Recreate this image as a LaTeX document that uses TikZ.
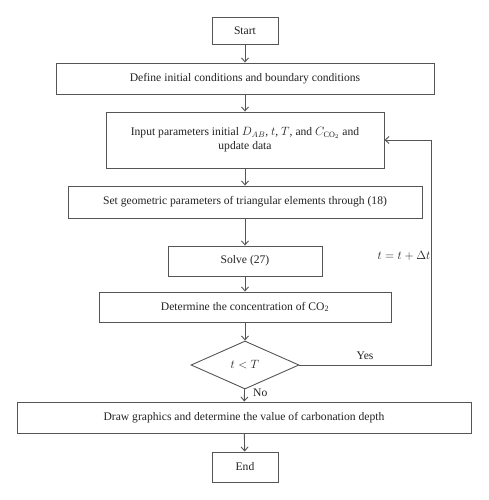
\documentclass[tikz,border=0pt]{standalone}
\usepackage{fontspec}
\setmainfont{Liberation Serif}
\usetikzlibrary{shapes.geometric,arrows.meta}
\definecolor{ln}{HTML}{555555}
\definecolor{tx}{HTML}{222222}
\begin{document}
\begin{tikzpicture}[x=1pt,y=-1pt,
  box/.style={draw=ln,line width=0.9pt,rectangle,inner sep=0pt,align=center,text=tx,font=\fontsize{11.6}{14}\selectfont},
  dec/.style={draw=ln,line width=0.9pt,diamond,inner sep=0pt,minimum width=108pt,minimum height=48pt,text=tx,font=\fontsize{11.6}{14}\selectfont},
  arr/.style={draw=ln,line width=0.9pt,-{Straight Barb[length=4pt,width=7pt]}},
  lbl/.style={text=tx,font=\fontsize{11.6}{14}\selectfont,inner sep=0pt}]
\useasboundingbox (0,0) rectangle (488,500);
\node[box,minimum width=66pt,minimum height=27pt] (start) at (245,30.5) {Start};
\node[box,minimum width=378pt,minimum height=31pt] (def) at (245,78.5) {Define initial conditions and boundary conditions};
\node[box,minimum width=278pt,minimum height=56pt] (inp) at (245,140) {Input parameters initial $D_{AB}$, $t$, $T$, and $C_{\mathrm{CO}_2}$ and\\ update data};
\node[box,minimum width=354pt,minimum height=32pt] (set) at (245,202) {Set geometric parameters of triangular elements through (18)};
\node[box,minimum width=154pt,minimum height=30pt] (solve) at (245,261) {Solve (27)};
\node[box,minimum width=292pt,minimum height=30pt] (det) at (245,307) {Determine the concentration of CO\textsubscript{2}};
\node[dec] (cond) at (245,365) {$t<T$};
\node[box,minimum width=454pt,minimum height=31pt] (draw) at (244,417.5) {Draw graphics and determine the value of carbonation depth};
\node[box,minimum width=66pt,minimum height=30pt] (end) at (245,467) {End};
\coordinate (c1) at (431,365);
\draw[arr] (start) -- (def);
\draw[arr] (def) -- (inp);
\draw[arr] (inp) -- (set);
\draw[arr] (set) -- (solve);
\draw[arr] (solve) -- (det);
\draw[arr] (det) -- (cond);
\draw[arr] (cond) -- (draw);
\draw[arr] (draw) -- (end);
\draw[arr] (cond.east) -- (c1) |- (inp.east);
\node[lbl] (yes) at (365,356) {Yes};
\node[lbl,anchor=west] (no) at (253,393) {No};
\node[lbl] (upd) at (404,256) {$t = t + \Delta t$};
\end{tikzpicture}
\end{document}
